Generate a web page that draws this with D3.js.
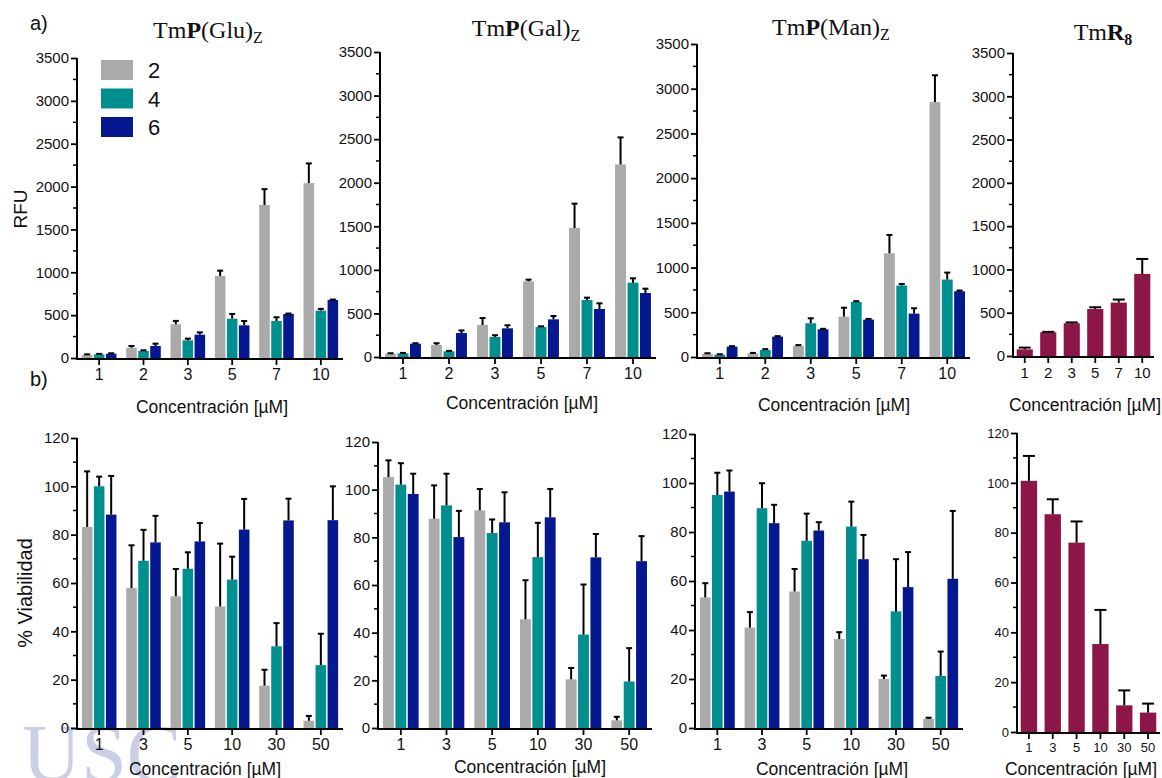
<!DOCTYPE html>
<html>
<head>
<meta charset="utf-8">
<script src="https://cdn.jsdelivr.net/npm/d3@7"></script>
<style>
  body { margin: 0; background: #fff; }
  svg { display: block; }
  text { font-family: "Liberation Sans", Arial, sans-serif; fill: #111; }
</style>
</head>
<body>
<div id="chart"></div>
<script>
var width = 1162, height = 778;

// categories
var concA = ["1", "2", "3", "5", "7", "10"];
var concB = ["1", "3", "5", "10", "30", "50"];
var seriesNames = ["2", "4", "6"];
var seriesColors = ["#aaaaaa", "#008f8f", "#06188f"];
var r8Color = "#8d1649";

// a) RFU, rows = series 2, 4, 6
var gluRfu    = [[35, 120, 393, 957, 1785, 2040], [43, 82, 206, 459, 432, 553], [50, 140, 272, 381, 514, 677]];
var gluRfuErr = [[8, 20, 40, 62, 185, 230], [5, 8, 20, 55, 43, 20], [5, 27, 27, 50, 5, 5]];
var galRfu    = [[38, 138, 367, 868, 1480, 2210], [42, 65, 230, 344, 654, 853], [153, 275, 329, 432, 551, 734]];
var galRfuErr = [[5, 20, 80, 20, 280, 310], [5, 5, 20, 8, 27, 50], [5, 30, 35, 38, 65, 50]];
var manRfu    = [[34, 41, 123, 451, 1160, 2850], [26, 78, 377, 616, 799, 866], [116, 228, 310, 418, 485, 735]];
var manRfuErr = [[8, 5, 10, 100, 205, 300], [5, 10, 56, 8, 18, 78], [5, 5, 5, 8, 60, 8]];
var r8Rfu     = [77, 274, 378, 543, 617, 948];
var r8RfuErr  = [20, 5, 10, 20, 35, 173];

// b) % viabilidad
var gluVia    = [[83.2, 57.9, 54.5, 50.3, 17.5, 3], [100, 69.2, 65.9, 61.4, 33.8, 26], [88.3, 76.8, 77.2, 82.1, 85.9, 86]];
var gluViaErr = [[23, 17.7, 11.3, 26, 6.6, 2], [4, 12.8, 6.8, 9.5, 9.6, 13], [16, 11, 7.6, 12.7, 9, 14]];
var galVia    = [[105.3, 87.8, 91.3, 45.6, 20.4, 3.2], [102.1, 93.4, 81.8, 71.7, 39.2, 19.5], [98.2, 80.1, 86.3, 88.4, 71.6, 70]];
var galViaErr = [[7, 14, 9, 16.4, 4.8, 1.5], [9, 13.3, 5.7, 14.4, 21, 14], [8.5, 11, 12.6, 11.9, 9.8, 10.5]];
var manVia    = [[53.3, 41, 55.7, 36.3, 20, 3.7], [95.1, 89.7, 76.4, 82.2, 47.6, 21.3], [96.5, 83.6, 80.6, 68.9, 57.5, 60.9]];
var manViaErr = [[5.8, 6.3, 9.2, 2.8, 1.4, 0.5], [9.1, 10.2, 11.1, 10.2, 21.3, 9.9], [8.6, 7.5, 3.4, 9.9, 14.3, 27.7]];
var r8Via     = [100.8, 87.4, 76, 35.3, 10.7, 7.8];
var r8ViaErr  = [10, 6, 8.5, 13.7, 6, 3.6];

var rfuTicks = [0, 500, 1000, 1500, 2000, 2500, 3000, 3500];
var viaTicks = [0, 20, 40, 60, 80, 100, 120];

var svg = d3.select("#chart").append("svg")
  .attr("width", width)
  .attr("height", height);

// watermark, behind everything
svg.append("text").attr("x", 22).attr("y", 781)
  .style("font-family", "Liberation Serif, Times New Roman, serif")
  .attr("font-size", 82)
  .style("fill", "#aab0d6").attr("opacity", 0.6)
  .text("USC");

function drawPanel(p) {
  var g = svg.append("g");
  var x = d3.scaleBand().domain(p.cats).range([p.x0, p.x1]).paddingInner(0.22).paddingOuter(0.11);
  var y = d3.scaleLinear().domain([0, p.max]).range([p.yb, p.yt]);
  var sub = d3.scaleBand().domain(d3.range(p.values.length)).range([0, x.bandwidth()]).paddingInner(0.12);

  p.values.forEach(function(row, s) {
    var col = p.colors[s];
    var bars = g.append("g");
    bars.selectAll("rect").data(row).enter().append("rect")
      .attr("x", (d, i) => x(p.cats[i]) + sub(s))
      .attr("y", d => y(d))
      .attr("width", sub.bandwidth())
      .attr("height", d => y(0) - y(d))
      .attr("fill", col);

    var errs = p.errors[s];
    var eb = g.append("g").attr("stroke", "#000").attr("stroke-width", 2);
    row.forEach(function(d, i) {
      var cx = x(p.cats[i]) + sub(s) + sub.bandwidth() / 2;
      eb.append("line").attr("x1", cx).attr("x2", cx).attr("y1", y(d)).attr("y2", y(d + errs[i]));
      eb.append("line").attr("x1", cx - p.cap).attr("x2", cx + p.cap)
        .attr("y1", y(d + errs[i])).attr("y2", y(d + errs[i]));
    });
  });

  // minor ticks
  var minor = g.append("g").attr("stroke", "#000").attr("stroke-width", 1.5);
  for (var k = 0; k < p.ticks.length - 1; k++) {
    var mv = (p.ticks[k] + p.ticks[k + 1]) / 2;
    minor.append("line").attr("x1", p.x0 - 4).attr("x2", p.x0).attr("y1", y(mv)).attr("y2", y(mv));
  }

  var ya = g.append("g").attr("transform", "translate(" + p.x0 + ",0)")
    .call(d3.axisLeft(y).tickValues(p.ticks).tickFormat(d3.format("d")).tickSize(6).tickPadding(2).tickSizeOuter(0));
  ya.select(".domain").attr("stroke-width", 2).attr("d", "M0," + (p.yb + 1) + "V" + p.yt);
  ya.selectAll(".tick line").attr("stroke-width", 1.8);
  ya.selectAll(".tick text").attr("font-size", p.yFont).attr("font-family", "Liberation Sans, Arial").attr("fill", "#111");

  var xa = g.append("g").attr("transform", "translate(0," + (p.yb + 1) + ")")
    .call(d3.axisBottom(x).tickSize(6).tickPadding(4).tickSizeOuter(0));
  xa.select(".domain").attr("stroke-width", 2).attr("d", "M" + (p.x0 - 1) + ",0H" + p.x1);
  xa.selectAll(".tick line").attr("stroke-width", 1.8);
  xa.selectAll(".tick text").attr("font-size", p.xFont).attr("font-family", "Liberation Sans, Arial").attr("fill", "#111");

  g.append("text")
    .attr("x", p.titleX).attr("y", p.titleY)
    .attr("text-anchor", "middle")
    .attr("font-size", 17.5)
    .text("Concentración [µM]");
}

function addTitle(cx, by, sugar) {
  var t = svg.append("text")
    .attr("x", cx).attr("y", by)
    .attr("text-anchor", "middle")
    .style("font-family", "Liberation Serif, Times New Roman, serif")
    .attr("font-size", 24);
  t.append("tspan").text("Tm");
  if (sugar) {
    t.append("tspan").attr("font-weight", "bold").text("P");
    t.append("tspan").text("(" + sugar + ")");
    t.append("tspan").attr("font-size", 16).attr("dy", 5).text("Z");
  } else {
    t.append("tspan").attr("font-weight", "bold").text("R");
    t.append("tspan").attr("font-weight", "bold").attr("font-size", 16).attr("dy", 5).text("8");
  }
}

var panelsA = [
  { x0: 77, x1: 343, yt: 58, yb: 358, values: gluRfu, errors: gluRfuErr, titleX: 212, titleY: 413, sugar: "Glu", tx: 208, ty: 38 },
  { x0: 380, x1: 656, yt: 52, yb: 357, values: galRfu, errors: galRfuErr, titleX: 522, titleY: 409, sugar: "Gal", tx: 526, ty: 36 },
  { x0: 697, x1: 970, yt: 44, yb: 357, values: manRfu, errors: manRfuErr, titleX: 834, titleY: 411, sugar: "Man", tx: 831, ty: 35 }
];
panelsA.forEach(function(p) {
  drawPanel({ x0: p.x0, x1: p.x1, yt: p.yt, yb: p.yb, max: 3500, ticks: rfuTicks, cats: concA,
    values: p.values, errors: p.errors, colors: seriesColors, cap: 3, yFont: 15, xFont: 16,
    titleX: p.titleX, titleY: p.titleY });
  addTitle(p.tx, p.ty, p.sugar);
});
drawPanel({ x0: 1013, x1: 1154, yt: 53, yb: 356, max: 3500, ticks: rfuTicks, cats: concA,
  values: [r8Rfu], errors: [r8RfuErr], colors: [r8Color], cap: 6, yFont: 15, xFont: 15,
  titleX: 1085, titleY: 411 });
addTitle(1103, 40, null);

var panelsB = [
  { x0: 77, x1: 343, yt: 438, yb: 728, values: gluVia, errors: gluViaErr, titleX: 205, titleY: 775 },
  { x0: 378, x1: 652, yt: 442, yb: 728, values: galVia, errors: galViaErr, titleX: 530, titleY: 773 },
  { x0: 695, x1: 963, yt: 434, yb: 728, values: manVia, errors: manViaErr, titleX: 832, titleY: 775 }
];
panelsB.forEach(function(p) {
  drawPanel({ x0: p.x0, x1: p.x1, yt: p.yt, yb: p.yb, max: 120, ticks: viaTicks, cats: concB,
    values: p.values, errors: p.errors, colors: seriesColors, cap: 3, yFont: 15, xFont: 16,
    titleX: p.titleX, titleY: p.titleY });
});
drawPanel({ x0: 1017, x1: 1160, yt: 433, yb: 732, max: 120, ticks: viaTicks, cats: concB,
  values: [r8Via], errors: [r8ViaErr], colors: [r8Color], cap: 6, yFont: 13, xFont: 13,
  titleX: 1081, titleY: 775 });

// legend
var legend = svg.append("g");
seriesNames.forEach(function(n, i) {
  legend.append("rect").attr("x", 101).attr("y", 60 + i * 28.5).attr("width", 32).attr("height", 20)
    .attr("fill", seriesColors[i]);
  legend.append("text").attr("x", 148).attr("y", 78 + i * 28.5).attr("font-size", 22).text(n);
});

// panel letters and axis labels
svg.append("text").attr("x", 30).attr("y", 30).attr("font-size", 20).text("a)");
svg.append("text").attr("x", 30).attr("y", 386).attr("font-size", 20).text("b)");
svg.append("text").attr("transform", "translate(27,209) rotate(-90)")
  .attr("text-anchor", "middle").attr("font-size", 19).text("RFU");
svg.append("text").attr("transform", "translate(32,593) rotate(-90)")
  .attr("text-anchor", "middle").attr("font-size", 20).text("% Viabilidad");
</script>
</body>
</html>
